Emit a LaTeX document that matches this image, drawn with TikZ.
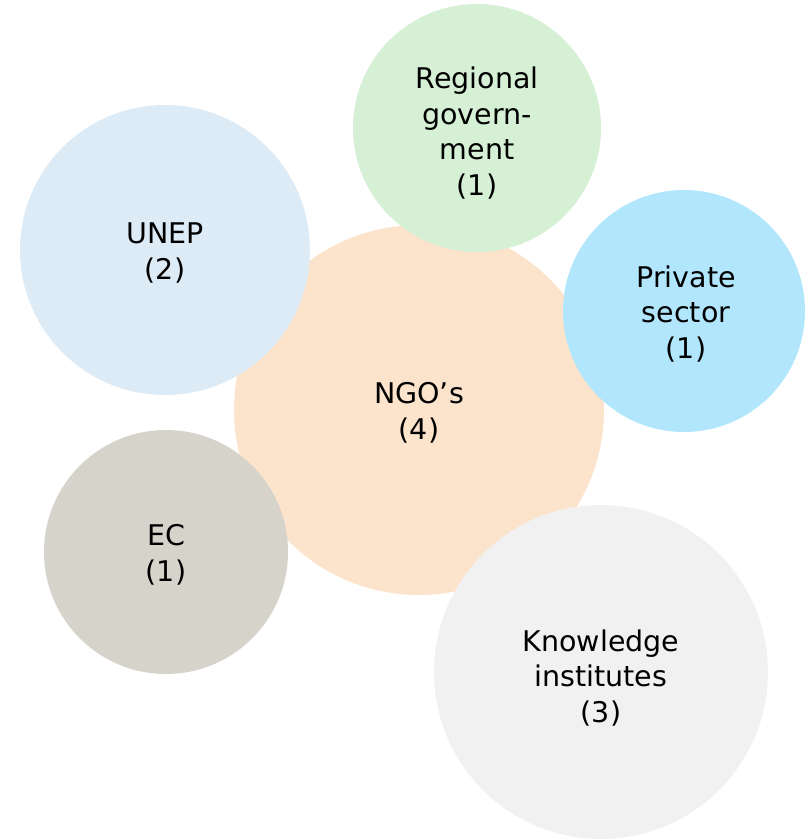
\documentclass[tikz,border=0pt]{standalone}
\usepackage{fontspec}
\setmainfont{DejaVu Sans}
\definecolor{cngo}{RGB}{252,227,203}
\definecolor{cunep}{RGB}{221,235,247}
\definecolor{creg}{RGB}{213,240,213}
\definecolor{cpriv}{RGB}{177,230,252}
\definecolor{cec}{RGB}{214,211,203}
\definecolor{ckn}{RGB}{241,241,241}
\begin{document}
\begin{tikzpicture}[x=1pt,y=-1pt,
  bubble/.style={circle,inner sep=0pt,minimum size=#1*2pt},
  lbl/.style={align=center,font=\fontsize{28.5}{35.5}\selectfont,text=black}]
\useasboundingbox (0,0) rectangle (805,839);
\node[bubble=185,fill=cngo] (ngo) at (419,410) {};
\node[bubble=145,fill=cunep] (unep) at (165,250) {};
\node[bubble=124,fill=creg] (reg) at (477,128) {};
\node[bubble=121,fill=cpriv] (priv) at (684,311) {};
\node[bubble=122,fill=cec] (ec) at (166,552) {};
\node[bubble=167,fill=ckn] (kn) at (601,672) {};
\node[lbl] (tngo) at (419,413) {NGO’s\\(4)};
\node[lbl] (tunep) at (165,253) {UNEP\\(2)};
\node[lbl] (treg) at (477,133) {Regional\\govern-\\ment\\(1)};
\node[lbl] (tpriv) at (686,314) {Private\\sector\\(1)};
\node[lbl] (tec) at (166,555) {EC\\(1)};
\node[lbl] (tkn) at (601,678) {Knowledge\\institutes\\(3)};
\end{tikzpicture}
\end{document}
